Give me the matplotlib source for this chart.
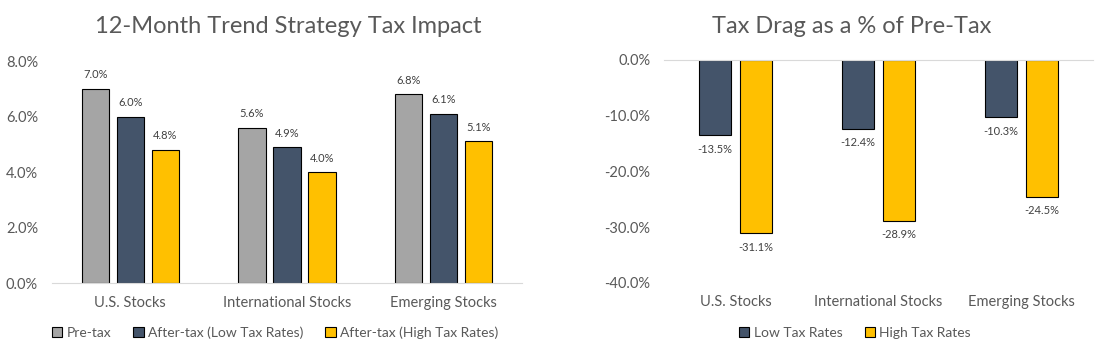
import matplotlib
matplotlib.use("Agg")
import matplotlib.pyplot as plt
import numpy as np

categories = ["U.S. Stocks", "International Stocks", "Emerging Stocks"]
pre_tax = [7.0, 5.6, 6.8]
after_low = [6.0, 4.9, 6.1]
after_high = [4.8, 4.0, 5.1]
drag_low = [-13.5, -12.4, -10.3]
drag_high = [-31.1, -28.9, -24.5]
left_ticks = [0, 2, 4, 6, 8]
right_ticks = [0, -10, -20, -30, -40]

GREY = "#A5A5A5"
DARK = "#44546A"
YEL = "#FFC000"
TXT = "#595959"
plt.rcParams['font.family'] = ['Lato', 'DejaVu Sans']

fig = plt.figure(figsize=(11.08, 3.56), dpi=100)

# Left chart
ax1 = fig.add_axes([0.0469, 0.205, 0.4242, 0.6236])
x = np.arange(len(categories))
w = 0.175
sp = 0.223
series = [(pre_tax, GREY, "Pre-tax"), (after_low, DARK, "After-tax (Low Tax Rates)"),
          (after_high, YEL, "After-tax (High Tax Rates)")]
for i, (vals, col, lab) in enumerate(series):
    bars = ax1.bar(x + (i - 1) * sp, vals, w, color=col, edgecolor="black", linewidth=0.8, label=lab)
    for b, v in zip(bars, vals):
        ax1.annotate(f"{v:.1f}%", (b.get_x() + b.get_width() / 2, v), xytext=(0, 6),
                     textcoords="offset points", ha="center", va="bottom", fontsize=8, color="#404040")
ax1.set_xlim(-0.5, 2.5)
ax1.set_ylim(0, 8)
ax1.set_yticks(left_ticks)
ax1.set_yticklabels([f"{t:.1f}%" for t in left_ticks])
ax1.set_xticks(x)
ax1.set_xticklabels(categories)
for s in ["top", "right", "left"]:
    ax1.spines[s].set_visible(False)
ax1.spines["bottom"].set_color("#D9D9D9")
ax1.tick_params(axis="both", length=0, colors=TXT, labelsize=10.5)
ax1.tick_params(axis="x", pad=9)
ax1.tick_params(axis="y", pad=10)
fig.text(0.26, 0.925, "12-Month Trend Strategy Tax Impact", ha="center", va="center",
         fontsize=17, color=TXT)
ax1.legend(loc="center left", bbox_to_anchor=(-0.012, -0.225), ncol=3, frameon=False,
           fontsize=10, labelcolor=TXT, handlelength=0.75, handleheight=0.75,
           handletextpad=0.3, columnspacing=1.6, borderaxespad=0)

# Right chart
ax2 = fig.add_axes([0.5993, 0.2051, 0.3872, 0.6264])
w2 = 0.224
sp2 = 0.287
series2 = [(drag_low, DARK, "Low Tax Rates"), (drag_high, YEL, "High Tax Rates")]
for i, (vals, col, lab) in enumerate(series2):
    bars = ax2.bar(x + (i - 0.5) * sp2, vals, w2, color=col, edgecolor="black", linewidth=0.8, label=lab)
    for b, v in zip(bars, vals):
        ax2.annotate(f"{v:.1f}%", (b.get_x() + b.get_width() / 2, v), xytext=(0, -6),
                     textcoords="offset points", ha="center", va="top", fontsize=8, color="#404040")
ax2.set_xlim(-0.5, 2.5)
ax2.set_ylim(-40, 0)
ax2.set_yticks(right_ticks)
ax2.set_yticklabels([f"{t:.1f}%" for t in right_ticks])
ax2.set_xticks(x)
ax2.set_xticklabels(categories)
for s in ["bottom", "right", "left"]:
    ax2.spines[s].set_visible(False)
ax2.spines["top"].set_color("#D9D9D9")
ax2.tick_params(axis="both", length=0, colors=TXT, labelsize=10.5)
ax2.tick_params(axis="x", pad=9)
ax2.tick_params(axis="y", pad=10)
fig.text(0.769, 0.925, "Tax Drag as a % of Pre-Tax", ha="center", va="center",
         fontsize=17, color=TXT)
ax2.legend(loc="center", bbox_to_anchor=(0.445, -0.225), ncol=2, frameon=False,
           fontsize=10, labelcolor=TXT, handlelength=0.75, handleheight=0.75,
           handletextpad=0.3, columnspacing=1.6, borderaxespad=0)

fig.savefig("out.png", dpi=100)
